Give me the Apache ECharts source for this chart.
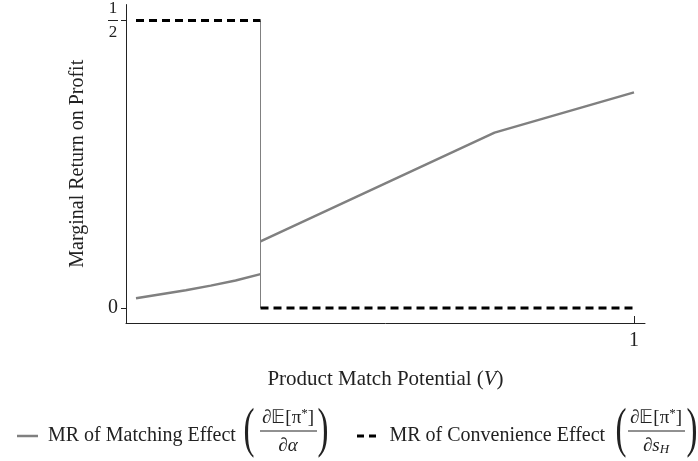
<!DOCTYPE html>
<html><head><meta charset="utf-8">
<script src="https://cdn.jsdelivr.net/npm/echarts@6/dist/echarts.min.js"></script>
<style>html,body{margin:0;padding:0;background:#fff}#c{width:698px;height:461px}</style>
</head><body><div id="c"></div>
<script>
// ---- data ----
const matchLowX = [0, 0.05, 0.1, 0.15, 0.2, 0.25];
const matchLowY = [0.017, 0.024, 0.031, 0.039, 0.048, 0.059];
const matchHighX = [0.25, 0.72, 1];
const matchHighY = [0.116, 0.305, 0.375];
const convLowX = [0, 0.25];
const convLowY = [0.5, 0.5];
const convHighX = [0.25, 1];
const convHighY = [0, 0];
const jumpX = [0.25, 0.25];
const jumpY = [0, 0.5];
const xTicks = [1];
const yTicks = [0, 0.5];
const seriesNames = ['MR of Matching Effect', 'MR of Convenience Effect'];

const zip = (a, b) => a.map((v, i) => [v, b[i]]);
const FONT = 'Liberation Serif';
const GRAY = '#808080';
const INK = '#222';

const chart = echarts.init(document.getElementById('c'));
chart.setOption({
  animation: false,
  grid: { left: 126, right: 53, top: 3, bottom: 138 },
  xAxis: {
    type: 'value', min: -0.0201, max: 1.0221,
    axisLine: { onZero: false, lineStyle: { color: INK, width: 1 } },
    axisTick: { customValues: xTicks, inside: true, length: 7, lineStyle: { color: INK } },
    axisLabel: { customValues: xTicks, color: INK, fontFamily: FONT, fontSize: 20, margin: 8, formatter: v => String(v) },
    splitLine: { show: false },
    name: 'Product Match Potential ({i|V})',
    nameLocation: 'middle', nameGap: 46,
    nameTextStyle: { color: INK, fontFamily: FONT, fontSize: 21,
      rich: { i: { fontStyle: 'italic', fontFamily: FONT, fontSize: 21, color: INK } } }
  },
  yAxis: {
    type: 'value', min: -0.026, max: 0.5277,
    axisLine: { show: true, onZero: false, lineStyle: { color: INK, width: 1 } },
    axisTick: { show: true, customValues: yTicks, length: 5, lineStyle: { color: INK } },
    axisLabel: {
      customValues: yTicks, color: INK, fontFamily: FONT, fontSize: 20, margin: 8,
      formatter: v => v === 0 ? '0' : '{n|1}\n{l| }\n{d|2}',
      rich: {
        n: { fontFamily: FONT, fontSize: 17, lineHeight: 17, color: INK, align: 'center' },
        l: { width: 10, height: 1, lineHeight: 7, backgroundColor: INK, fontSize: 1 },
        d: { fontFamily: FONT, fontSize: 17, lineHeight: 17, color: INK, align: 'center' }
      }
    },
    splitLine: { show: false },
    name: 'Marginal Return on Profit',
    nameLocation: 'middle', nameGap: 38, nameRotate: 90,
    nameTextStyle: { color: INK, fontFamily: FONT, fontSize: 20 }
  },
  legend: [
    { data: [{ name: seriesNames[0], icon: 'rect' }], left: 12, top: 421, itemWidth: 21, itemHeight: 2.5,
      textStyle: { fontFamily: FONT, fontSize: 20, color: INK, padding: [0, 0, 0, 5] } },
    { data: [{ name: seriesNames[1], icon: 'path://M0,0h7v3h-7zM12,0h7v3h-7z' }], left: 352, top: 421, itemWidth: 20, itemHeight: 3,
      textStyle: { fontFamily: FONT, fontSize: 20, color: INK, padding: [0, 0, 0, 8] } }
  ],
  series: [
    { name: seriesNames[0], type: 'line', data: zip(matchLowX, matchLowY), symbol: 'none',
      lineStyle: { color: GRAY, width: 2.5 }, itemStyle: { color: GRAY } },
    { name: seriesNames[0], type: 'line', data: zip(matchHighX, matchHighY), symbol: 'none',
      lineStyle: { color: GRAY, width: 2.5 }, itemStyle: { color: GRAY } },
    { name: 'jump', type: 'line', data: zip(jumpX, jumpY), symbol: 'none',
      lineStyle: { color: GRAY, width: 1 } },
    { name: seriesNames[1], type: 'line', data: zip(convLowX, convLowY), symbol: 'none',
      lineStyle: { color: '#000', width: 3, type: [8, 5] }, itemStyle: { color: '#000' } },
    { name: seriesNames[1], type: 'line', data: zip(convHighX, convHighY), symbol: 'none',
      lineStyle: { color: '#000', width: 3, type: [8, 5] }, itemStyle: { color: '#000' } }
  ],
  graphic: [
    fraction(288, 249, 323, 'α', ''),
    fraction(656, 621, 692, 's', 'H')
  ]
});

function fraction(cx, parL, parR, den, sub) {
  const denText = sub ? '∂{it|' + den + '}{sub|' + sub + '}' : '∂{it|' + den + '}';
  return {
    type: 'group', children: [
      { type: 'text', x: parL, y: 432, scaleX: 0.6, style: { text: '(', font: '55px ' + FONT, fill: INK, align: 'center', verticalAlign: 'middle' } },
      { type: 'text', x: parR, y: 432, scaleX: 0.6, style: { text: ')', font: '55px ' + FONT, fill: INK, align: 'center', verticalAlign: 'middle' } },
      { type: 'text', x: cx, y: 418, style: { text: '∂𝔼[π{sup|*}]', font: '19px ' + FONT, fill: INK, align: 'center', verticalAlign: 'middle',
          rich: { sup: { font: '13px ' + FONT, fill: INK, verticalAlign: 'top', padding: [0, 0, 8, 0] } } } },
      { type: 'line', shape: { x1: cx - 28, y1: 431, x2: cx + 29, y2: 431 }, style: { stroke: INK, lineWidth: 1 } },
      { type: 'text', x: cx, y: 446, style: { text: denText, font: '19px ' + FONT, fill: INK, align: 'center', verticalAlign: 'middle',
          rich: { it: { font: 'italic 19px ' + FONT, fill: INK }, sub: { font: 'italic 13px ' + FONT, fill: INK, padding: [8, 0, 0, 0] } } } }
    ]
  };
}
</script></body></html>
